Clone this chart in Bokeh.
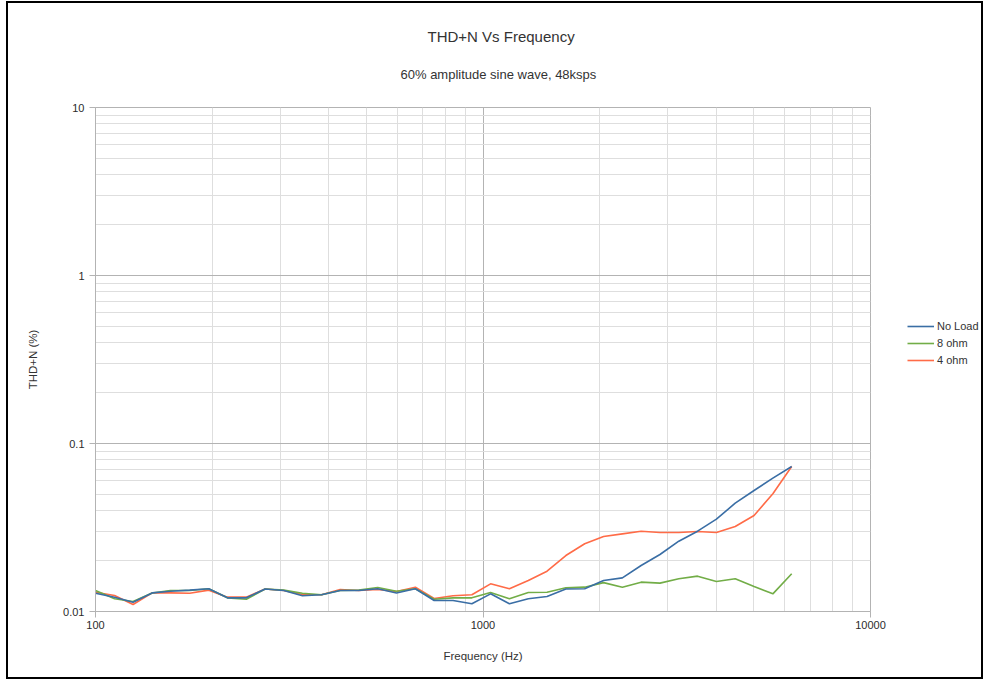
from bokeh.plotting import figure
from bokeh.layouts import row
from bokeh.models import (FixedTicker, BasicTickFormatter, Legend, LegendItem,
                          Title, Range1d)
from bokeh.embed import file_html
from bokeh.resources import INLINE

# ---------------- data ----------------
freq_hz = [100, 112, 125, 140, 156, 175, 196, 219, 245, 274, 306, 342, 383, 428,
           478, 535, 598, 669, 748, 837, 936, 1046, 1170, 1309, 1463, 1636, 1830,
           2047, 2289, 2559, 2862, 3201, 3579, 4003, 4476, 5006, 5598, 6261]

no_load = [0.01285, 0.01217, 0.01136, 0.0129, 0.0132, 0.0134, 0.01365, 0.01206,
           0.01206, 0.0136, 0.01334, 0.0124, 0.01257, 0.01334, 0.01334, 0.01365,
           0.0129, 0.01365, 0.01163, 0.01163, 0.01111, 0.01274, 0.01111, 0.0119,
           0.01228, 0.0136, 0.01365, 0.01529, 0.01586, 0.01878, 0.02184, 0.02622,
           0.03006, 0.03545, 0.04413, 0.0525, 0.06218, 0.07298]

eight_ohm = [0.01334, 0.0119, 0.01147, 0.0129, 0.01334, 0.01334, 0.01365, 0.01206,
             0.01184, 0.0136, 0.0134, 0.01285, 0.01257, 0.01334, 0.0134, 0.0139,
             0.01321, 0.01365, 0.01184, 0.01206, 0.01206, 0.01298, 0.0119, 0.01298,
             0.01303, 0.01383, 0.01396, 0.01485, 0.01396, 0.01495, 0.01475, 0.01565,
             0.01623, 0.01508, 0.01565, 0.01409, 0.01274, 0.01676]

four_ohm = [0.01303, 0.01245, 0.01101, 0.0129, 0.0129, 0.01285, 0.0134, 0.01217,
            0.01217, 0.0136, 0.01334, 0.01262, 0.01257, 0.01352, 0.01334, 0.01352,
            0.01315, 0.01396, 0.01195, 0.0124, 0.01257, 0.01461, 0.01365, 0.01529,
            0.01738, 0.02154, 0.0253, 0.02796, 0.02899, 0.03006, 0.02953, 0.02953,
            0.02993, 0.02953, 0.03206, 0.03728, 0.05017, 0.07298]

series_names = ["No Load", "8 ohm", "4 ohm"]

x_major = [100, 1000, 10000]
x_minor = [200, 300, 400, 500, 600, 700, 800, 900,
           2000, 3000, 4000, 5000, 6000, 7000, 8000, 9000]
y_major = [0.01, 0.1, 1, 10]
y_minor = [0.02, 0.03, 0.04, 0.05, 0.06, 0.07, 0.08, 0.09,
           0.2, 0.3, 0.4, 0.5, 0.6, 0.7, 0.8, 0.9,
           2, 3, 4, 5, 6, 7, 8, 9]

FONT = "Liberation Sans"
TXT = "#333333"
MAJOR = "#b3b3b3"
MINOR = "#dedede"
colors = {"No Load": "#3a6ea5", "8 ohm": "#72ad47", "4 ohm": "#ff6b47"}
series_values = {"No Load": no_load, "8 ohm": eight_ohm, "4 ohm": four_ohm}

# ---------------- main chart ----------------
p = figure(width=882, height=674, x_axis_type="log", y_axis_type="log",
           x_range=Range1d(100, 10000), y_range=Range1d(0.01, 10),
           output_backend="svg", toolbar_location=None,
           min_border_left=87, min_border_right=20,
           min_border_top=104, min_border_bottom=66)
p.background_fill_color = "white"
p.border_fill_color = "white"
p.outline_line_color = MAJOR

# titles: spacer first (closest to the frame), then subtitle, then title
p.add_layout(Title(text=" ", text_font_size="2px", standoff=12,
                   text_color="white"), "above")
p.add_layout(Title(text="60% amplitude sine wave, 48ksps", align="left", offset=305,
                   text_font=FONT, text_font_size="13px", text_font_style="normal",
                   text_color=TXT, standoff=20), "above")
p.add_layout(Title(text="THD+N Vs Frequency", align="left", offset=332,
                   text_font=FONT, text_font_size="15px", text_font_style="normal",
                   text_color=TXT, standoff=20), "above")

# axes
p.xaxis.ticker = FixedTicker(ticks=x_major, minor_ticks=x_minor)
p.yaxis.ticker = FixedTicker(ticks=y_major, minor_ticks=y_minor)
p.xaxis.formatter = BasicTickFormatter()
p.yaxis.formatter = BasicTickFormatter()
p.xaxis.axis_label = "Frequency (Hz)"
p.yaxis.axis_label = "THD+N (%)"
for ax in (p.xaxis, p.yaxis):
    ax.axis_line_color = MAJOR
    ax.major_tick_line_color = MAJOR
    ax.major_tick_out = 6
    ax.major_tick_in = 0
    ax.minor_tick_line_color = None
    ax.major_label_text_font = FONT
    ax.major_label_text_font_size = "11px"
    ax.major_label_text_color = "#2b2b2b"
    ax.axis_label_text_font = FONT
    ax.axis_label_text_font_size = "11.5px"
    ax.axis_label_text_font_style = "normal"
    ax.axis_label_text_color = TXT
p.xaxis.major_label_standoff = 3
p.xaxis.axis_label_standoff = 18
p.yaxis.major_label_standoff = 5
p.yaxis.axis_label_standoff = 21

# grids
for g in (p.xgrid, p.ygrid):
    g.grid_line_color = MAJOR
    g.grid_line_width = 1
    g.minor_grid_line_color = MINOR
    g.minor_grid_line_width = 1

# lines (draw 4 ohm first, no load last on top)
for name in reversed(series_names):
    p.line(freq_hz, series_values[name], line_color=colors[name], line_width=1.6)

# ---------------- legend panel (to the right of the chart) ----------------
# The legend sits in its own small figure; its renderers use the same data,
# which lies outside this panel's ranges, so only the legend keys show.
q = figure(width=91, height=674, x_range=Range1d(0, 1), y_range=Range1d(0, 1),
           output_backend="svg", toolbar_location=None,
           x_axis_location=None, y_axis_location=None,
           min_border_left=0, min_border_right=0,
           min_border_top=0, min_border_bottom=0)
q.grid.visible = False
q.outline_line_color = None
q.background_fill_color = "white"
q.border_fill_color = "white"
leg_renderers = [q.line(freq_hz, series_values[name], line_color=colors[name],
                        line_width=1.6) for name in series_names]
legend = Legend(items=[LegendItem(label=name, renderers=[r])
                       for name, r in zip(series_names, leg_renderers)],
                location=(17, 244), orientation="vertical",
                glyph_width=27, glyph_height=14, label_height=14,
                label_standoff=3, spacing=3, padding=0, margin=0,
                label_text_font=FONT, label_text_font_size="11px",
                label_text_color=TXT, border_line_color=None,
                background_fill_alpha=0)
q.add_layout(legend)

layout = row(p, q)
layout.styles = {"margin-left": "8px", "margin-top": "3px",
                 "outline": "2px solid black"}

open("out.html", "w").write(file_html(layout, INLINE))
